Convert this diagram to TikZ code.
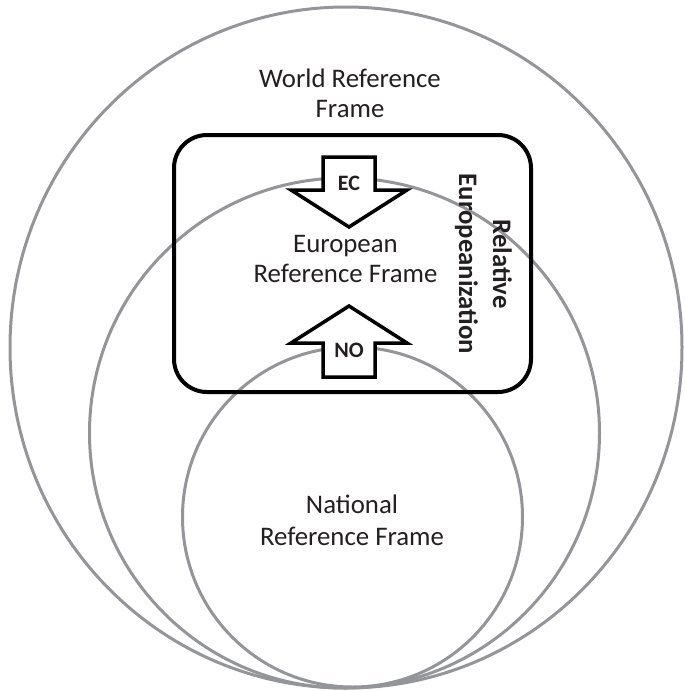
\documentclass[tikz,border=0pt]{standalone}
\usepackage{fontspec}
\setmainfont{Carlito}
\definecolor{ringgray}{RGB}{148,149,153}
\definecolor{ink}{RGB}{35,31,32}
\begin{document}
\begin{tikzpicture}[x=1pt,y=-1pt,
  ring/.style={draw=ringgray,line width=3pt},
  framebox/.style={draw=black,line width=4pt,rounded corners=33pt},
  bigarrow/.style={draw=black,fill=white,line width=3.5pt,line join=miter},
  lbl/.style={text=ink,font=\fontsize{26.8}{31}\selectfont,anchor=base,inner sep=0pt},
  blbl/.style={text=ink,font=\bfseries\fontsize{26.7}{31}\selectfont,anchor=base,inner sep=0pt,rotate=-90},
  albl/.style={text=ink,font=\bfseries\fontsize{22}{26}\selectfont,inner sep=0pt}]
\useasboundingbox (0,0) rectangle (685,691);
% circles
\draw[ring] (346,347.5) ellipse [x radius=336pt, y radius=340.5pt];
\draw[ring] (344.5,433) circle [radius=255pt];
\draw[ring] (352.5,517) circle [radius=170pt];
% frame
\draw[framebox] (174,135) rectangle (531,392);
% arrows
\draw[bigarrow] (323,157) -- (375,157) -- (375,190) -- (407,190) -- (349,227) -- (291,190) -- (323,190) -- cycle;
\draw[bigarrow] (349,306) -- (407,343) -- (375,343) -- (375,377) -- (323,377) -- (323,343) -- (291,343) -- cycle;
\node[albl] (ec) at (349,183.5) {EC};
\node[albl] (no) at (349,350.5) {NO};
% labels
\node[lbl] (w1) at (350,87) {World Reference};
\node[lbl] (w2) at (350,117) {Frame};
\node[lbl] (e1) at (345.5,252) {European};
\node[lbl] (e2) at (345.5,282) {Reference Frame};
\node[lbl] (n1) at (352,513) {National};
\node[lbl] (n2) at (352,545) {Reference Frame};
\node[blbl] (r1) at (493,264) {Relative};
\node[blbl] (r2) at (459,264) {Europeanization};
\end{tikzpicture}
\end{document}
